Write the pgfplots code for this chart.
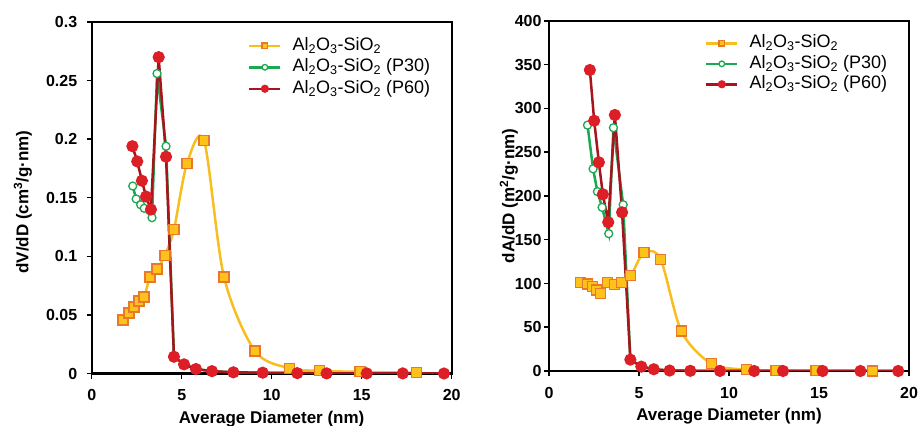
\documentclass[border=0pt]{standalone}
\usepackage{fontspec}
\setmainfont{Liberation Sans}
\usepackage{pgfplots}
\pgfplotsset{compat=1.18}
\definecolor{ygold}{HTML}{F7BE20}
\definecolor{yfill}{HTML}{FFC21A}
\definecolor{yedge}{HTML}{E9782A}
\definecolor{pgreen}{HTML}{1BA851}
\definecolor{dred}{HTML}{A8141B}
\definecolor{mred}{HTML}{DC1F26}
\pgfplotsset{
 myax/.style={
  scale only axis,
  width=360bp,
  xmin=0,xmax=20,
  xtick={0,5,10,15,20},
  xticklabels={0,5,10,15,20},
  tick align=outside,
  xtick pos=bottom, ytick pos=left,
  major tick length=5bp,
  axis line style={line width=2bp},
  every tick/.style={black, line width=1.5bp},
  ticklabel style={font=\fontsize{16bp}{19bp}\selectfont\bfseries},
  xticklabel style={yshift=-7.5bp},
  label style={font=\fontsize{17bp}{20bp}\selectfont\bfseries},
  xlabel={Average Diameter (nm)},
  xlabel style={at={(axis description cs:0.5,0)}, anchor=base, yshift=-49.5bp},
  legend cell align=left,
  legend style={draw=none, fill=none, inner sep=0pt, anchor=north west,
    font=\fontsize{18bp}{21bp}\selectfont,
    nodes={inner sep=0pt, text height=14bp, text depth=5bp},
    column sep=11bp, row sep=2.5bp},
  legend image code/.code={\draw[mark repeat=2, mark phase=2, #1, mark size=2.8bp] plot coordinates {(0bp,0bp)(15.5bp,0bp)(31bp,0bp)};},
 },
 ser1/.style={ygold, line width=2.5bp, smooth, mark=square*, mark options={fill=yfill, draw=yedge, line width=1.2bp, solid}, mark size=5bp},
 ser2/.style={pgreen, line width=2.5bp, mark=*, mark options={fill=white, draw=pgreen, line width=1.3bp}, mark size=4bp},
 ser3/.style={dred, line width=2.5bp, mark=*, mark options={fill=mred, draw=mred}, mark size=4.8bp},
}
\begin{document}
\begin{tikzpicture}
\useasboundingbox (0,0) rectangle (921bp,426bp);
% left panel
\begin{axis}[myax,
  at={(91.7bp,52.5bp)}, anchor=south west,
  height=351.5bp,
  ymin=0, ymax=0.3,
  ytick={0,0.05,0.1,0.15,0.2,0.25,0.3},
  yticklabels={0,0.05,0.1,0.15,0.2,0.25,0.3},
  yticklabel style={xshift=-6bp},
  legend style={at={(axis description cs:0.434,0.960)}},
]
\addplot[ser1] coordinates {
(1.74,0.0456) (2.07,0.0516) (2.35,0.0567) (2.63,0.0619) (2.91,0.0653)
(3.24,0.0823) (3.63,0.0892) (4.07,0.101) (4.57,0.123) (5.29,0.179)
(6.24,0.199) (7.35,0.0823) (9.07,0.0192) (10.97,0.0045) (12.65,0.0023)
(14.9,0.0014) (18.05,0.0006)};
\addlegendentry{Al\textsubscript{2}O\textsubscript{3}-SiO\textsubscript{2}}
\addplot[ser2] coordinates {
(2.28,0.160) (2.47,0.149) (2.72,0.144) (2.92,0.141) (3.35,0.133)
(3.63,0.256) (4.13,0.194) (4.57,0.0145) (5.13,0.0078) (5.79,0.0038)
(6.68,0.0020) (7.87,0.0010) (9.5,0.0007) (11.42,0.0003) (13.05,0.0001)
(15.28,0.0001) (17.28,0.0001) (19.57,0)};
\addlegendentry{Al\textsubscript{2}O\textsubscript{3}-SiO\textsubscript{2} (P30)}
\addplot[ser3] coordinates {
(2.26,0.194) (2.53,0.181) (2.79,0.1645) (3.02,0.151) (3.29,0.140)
(3.72,0.270) (4.13,0.185) (4.57,0.0143) (5.13,0.0078) (5.79,0.0038)
(6.68,0.0020) (7.87,0.0010) (9.5,0.0007) (11.42,0.0003) (13.05,0.0001)
(15.28,0.0001) (17.28,0.0001) (19.57,0)};
\addlegendentry{Al\textsubscript{2}O\textsubscript{3}-SiO\textsubscript{2} (P60)}
\end{axis}
% right panel
\begin{axis}[myax,
  at={(549bp,55bp)}, anchor=south west,
  height=350bp,
  ymin=0, ymax=400,
  ytick={0,50,100,150,200,250,300,350,400},
  yticklabels={0,50,100,150,200,250,300,350,400},
  yticklabel style={xshift=1bp},
  legend style={at={(axis description cs:0.433,0.964)}, row sep=1.5bp},
]
\addplot[ser1] coordinates {
(1.77,101) (2.14,99.4) (2.40,96.4) (2.64,92.6) (2.88,88.8)
(3.23,101) (3.62,99.1) (4.03,101) (4.54,109) (5.28,135.2)
(6.20,127.7) (7.35,45.7) (9.01,8.5) (10.95,1.5) (12.61,0.5)
(14.83,0.2) (17.97,0.1)};
\addlegendentry{Al\textsubscript{2}O\textsubscript{3}-SiO\textsubscript{2}}
\addplot[ser2] coordinates {
(2.14,281) (2.45,231) (2.69,205) (2.95,187) (3.32,157)
(3.58,278) (4.12,190) (4.52,13) (5.13,5) (5.82,2)
(6.7,0.5) (7.85,0.2) (9.5,0.1) (11.4,0) (13.0,0)
(15.2,0) (17.3,0) (19.4,0)};
\addlegendentry{Al\textsubscript{2}O\textsubscript{3}-SiO\textsubscript{2} (P30)}
\addplot[ser3] coordinates {
(2.27,344) (2.51,286) (2.77,238.5) (2.99,202) (3.29,170)
(3.66,292.6) (4.06,181.3) (4.52,13) (5.13,5) (5.82,2)
(6.7,0.5) (7.85,0.2) (9.5,0.1) (11.4,0) (13.0,0)
(15.2,0) (17.3,0) (19.4,0)};
\addlegendentry{Al\textsubscript{2}O\textsubscript{3}-SiO\textsubscript{2} (P60)}
\end{axis}
\node[rotate=90, anchor=center, inner sep=0pt, font=\fontsize{17bp}{20bp}\selectfont\bfseries] at (23bp,224bp) {dV/dD (cm\textsuperscript{3}/g·nm)};
\node[rotate=90, anchor=center, inner sep=0pt, font=\fontsize{17bp}{20bp}\selectfont\bfseries] at (509bp,230bp) {dA/dD (m\textsuperscript{2}/g·nm)};
\end{tikzpicture}
\end{document}
